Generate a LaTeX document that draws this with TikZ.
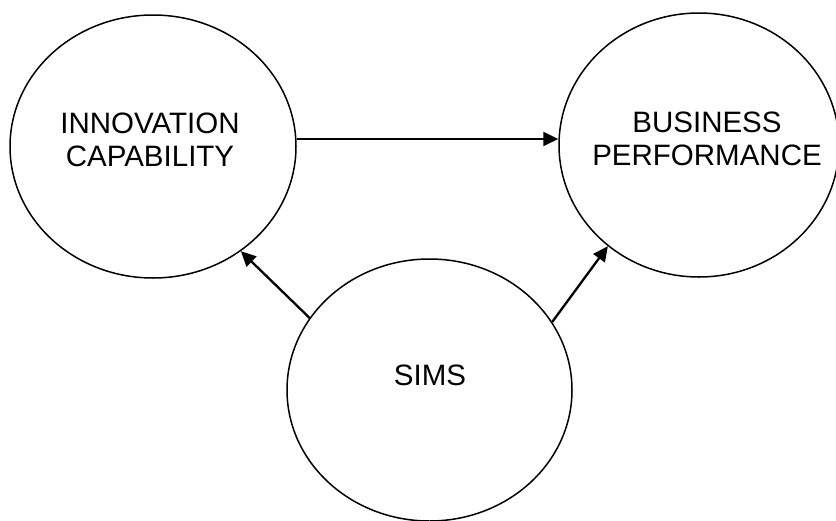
\documentclass[tikz,border=0pt]{standalone}
\usepackage{fontspec}
\setmainfont{Liberation Sans}
\usetikzlibrary{arrows.meta,shapes.geometric}
\tikzset{
  bubble/.style={draw=black, line width=1.5pt, ellipse, inner sep=0pt},
  caption/.style={inner sep=0pt, align=center,
    font=\fontsize{29.5}{33.5}\selectfont},
  link/.style={draw=black, line width=2.3pt,
    -{Triangle[length=15pt,width=14pt]}}
}
\begin{document}
\begin{tikzpicture}[x=1pt,y=-1pt]
  \useasboundingbox (0,0) rectangle (836,520);

  % the three constructs
  \node[bubble, minimum width=286pt, minimum height=263pt] (inno) at (153,146.5) {};
  \node[bubble, minimum width=280pt, minimum height=264pt] (perf) at (699,145) {};
  \node[bubble, minimum width=285pt, minimum height=262pt] (sims) at (429.5,390) {};

  % their labels
  \node[caption] (innotext) at (150,140) {INNOVATION\\CAPABILITY};
  \node[caption] (perftext) at (707,139) {BUSINESS\\PERFORMANCE};
  \node[caption] (simstext) at (430,375.5) {SIMS};

  % hypothesised effects
  \draw[link] (inno.3.8) -- (inno.3.8 -| perf.west);
  \draw[link] (sims.149.6) -- (inno.-50.1);
  \draw[link] (sims.29.2) -- (perf.228.9);
\end{tikzpicture}
\end{document}
